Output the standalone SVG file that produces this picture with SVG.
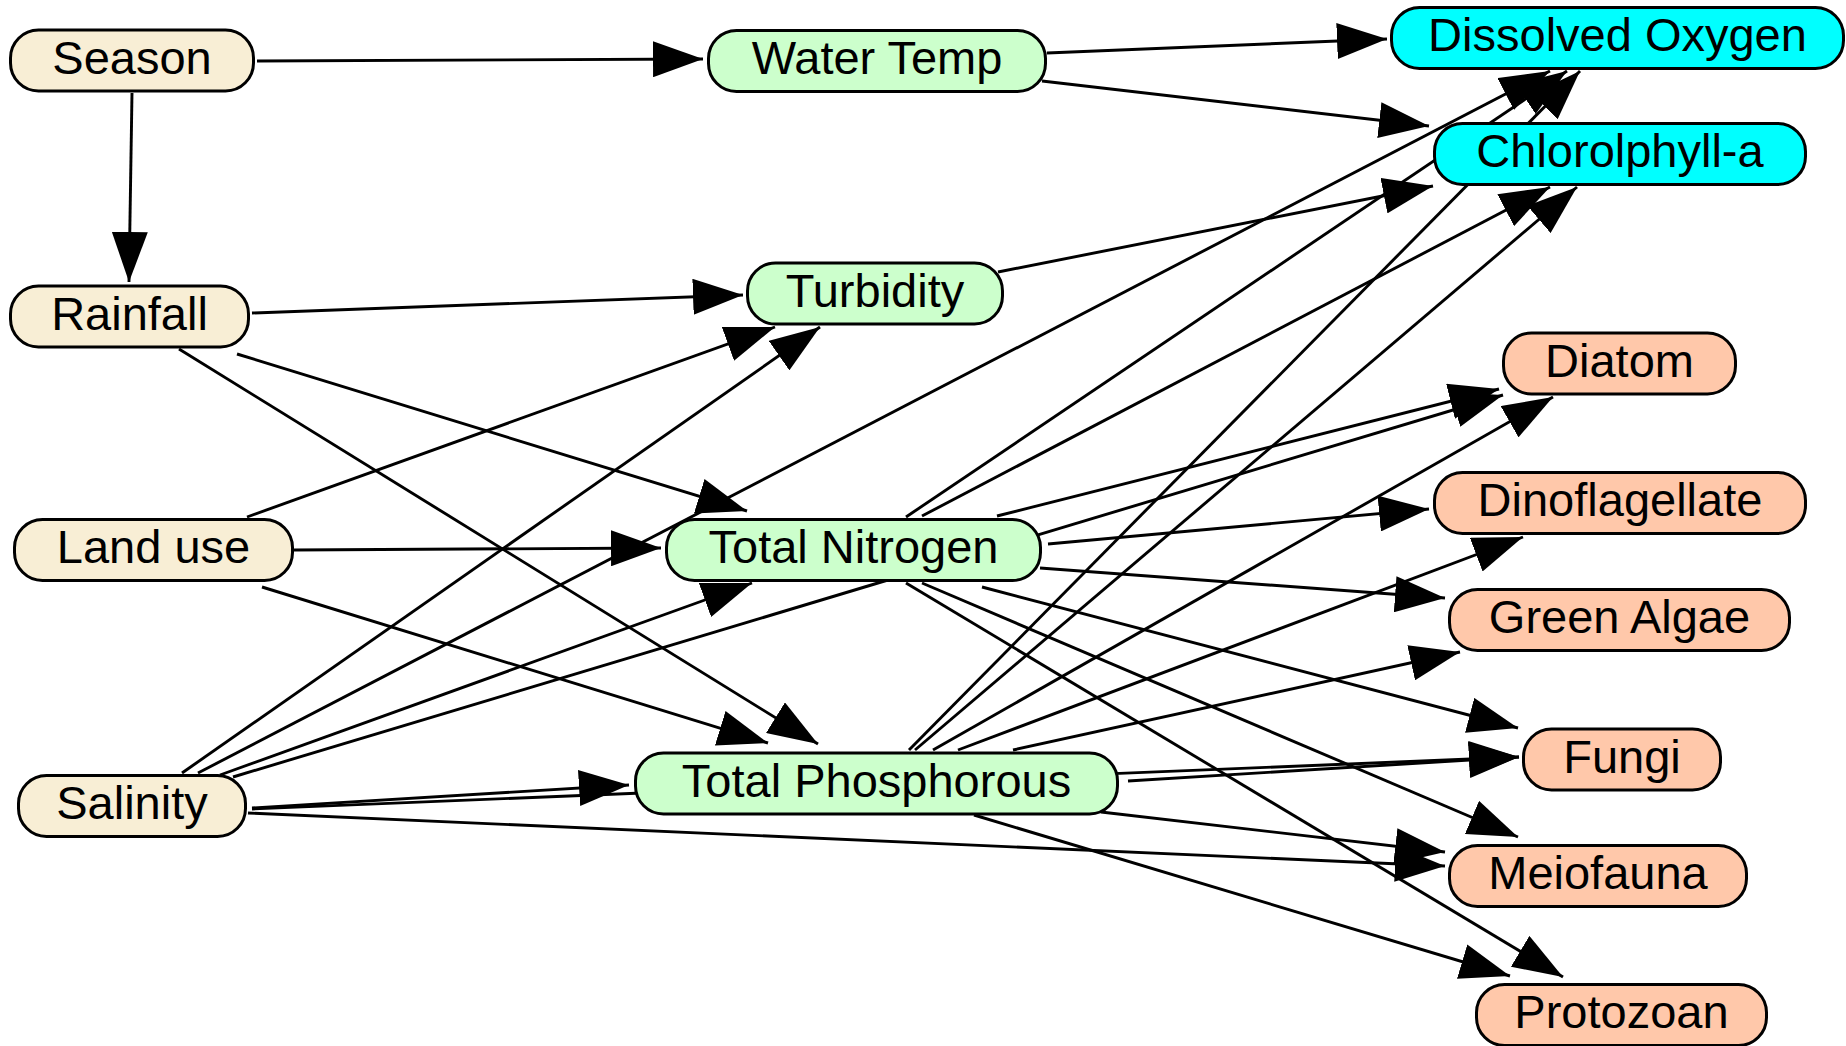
<svg xmlns="http://www.w3.org/2000/svg" width="1846" height="1046" viewBox="0 0 1846 1046">
<style>
.e{stroke:#000;stroke-width:2.9;fill:none;marker-end:url(#ah)}
.n rect{stroke:#000;stroke-width:3}
.drv rect{fill:#F8EED5}
.mid rect{fill:#CCFFCC}
.wq rect{fill:#00FFFF}
.bio rect{fill:#FFC8AA}
.n text{font-family:"Liberation Sans",Arial,sans-serif;font-size:47px;fill:#000;text-anchor:middle}
</style>
<defs>
<marker id="ah" markerUnits="userSpaceOnUse" markerWidth="50" markerHeight="36" viewBox="0 0 50 36" refX="50" refY="18" orient="auto"><path d="M0,0 L50,18 L0,36 Z" fill="#000"/></marker>
</defs>
<rect width="1846" height="1046" fill="#fff"/>
<g id="connectors">
<line class="e" x1="257" y1="61" x2="703" y2="59"/>
<line class="e" x1="132" y1="93" x2="129" y2="282"/>
<line class="e" x1="1047" y1="53" x2="1387" y2="39"/>
<line class="e" x1="1042" y1="81" x2="1429" y2="126"/>
<line class="e" x1="252" y1="313" x2="743" y2="295"/>
<line class="e" x1="237" y1="354" x2="747" y2="511"/>
<line class="e" x1="179" y1="349" x2="818" y2="744"/>
<line class="e" x1="998" y1="272" x2="1433" y2="186"/>
<line class="e" x1="247" y1="517" x2="775" y2="327"/>
<line class="e" x1="294" y1="550" x2="661" y2="548"/>
<line class="e" x1="262" y1="587" x2="768" y2="743"/>
<line class="e" x1="182" y1="773" x2="820" y2="327"/>
<line class="e" x1="198" y1="773" x2="1550" y2="71"/>
<line class="e" x1="220" y1="775" x2="752" y2="583"/>
<line class="e" x1="233" y1="777" x2="1503" y2="395"/>
<line class="e" x1="252" y1="808" x2="629" y2="785"/>
<line class="e" x1="252" y1="809" x2="1519" y2="757"/>
<line class="e" x1="248" y1="813" x2="1445" y2="866"/>
<line class="e" x1="906" y1="517" x2="1567" y2="71"/>
<line class="e" x1="922" y1="516" x2="1550" y2="187"/>
<line class="e" x1="997" y1="516" x2="1499" y2="389"/>
<line class="e" x1="1048" y1="544" x2="1429" y2="509"/>
<line class="e" x1="1040" y1="568" x2="1445" y2="598"/>
<line class="e" x1="982" y1="587" x2="1518" y2="728"/>
<line class="e" x1="922" y1="583" x2="1518" y2="837"/>
<line class="e" x1="906" y1="583" x2="1563" y2="977"/>
<line class="e" x1="909" y1="750" x2="1580" y2="71"/>
<line class="e" x1="915" y1="750" x2="1577" y2="187"/>
<line class="e" x1="933" y1="750" x2="1553" y2="397"/>
<line class="e" x1="958" y1="750" x2="1523" y2="537"/>
<line class="e" x1="1013" y1="750" x2="1460" y2="652"/>
<line class="e" x1="1128" y1="781" x2="1519" y2="757"/>
<line class="e" x1="1101" y1="812" x2="1445" y2="852"/>
<line class="e" x1="974" y1="815" x2="1510" y2="976"/>
</g>
<g id="season" class="n drv"><rect x="10.5" y="30" width="243" height="61" rx="28" ry="28"/><text x="132" y="73.5">Season</text></g>
<g id="water-temp" class="n mid"><rect x="708.5" y="30.5" width="337" height="61" rx="28" ry="28"/><text x="877" y="74">Water Temp</text></g>
<g id="dissolved-oxygen" class="n wq"><rect x="1391.5" y="7.5" width="452" height="61" rx="28" ry="28"/><text x="1617.5" y="51">Dissolved Oxygen</text></g>
<g id="chlorophyll" class="n wq"><rect x="1434.5" y="123.5" width="371" height="61" rx="28" ry="28"/><text x="1620" y="167">Chlorolphyll-a</text></g>
<g id="rainfall" class="n drv"><rect x="10.5" y="286" width="238" height="61" rx="28" ry="28"/><text x="129.5" y="329.5">Rainfall</text></g>
<g id="turbidity" class="n mid"><rect x="747.5" y="263" width="255" height="61" rx="28" ry="28"/><text x="875" y="306.5">Turbidity</text></g>
<g id="diatom" class="n bio"><rect x="1503.5" y="333" width="232" height="61" rx="28" ry="28"/><text x="1619.5" y="376.5">Diatom</text></g>
<g id="dinoflagellate" class="n bio"><rect x="1434.5" y="472.5" width="371" height="61" rx="28" ry="28"/><text x="1620" y="516">Dinoflagellate</text></g>
<g id="land-use" class="n drv"><rect x="14.5" y="519.5" width="278" height="61" rx="28" ry="28"/><text x="153.5" y="563">Land use</text></g>
<g id="total-nitrogen" class="n mid"><rect x="666.5" y="519.5" width="374" height="61" rx="28" ry="28"/><text x="853.5" y="563">Total Nitrogen</text></g>
<g id="green-algae" class="n bio"><rect x="1449.5" y="589.5" width="340" height="61" rx="28" ry="28"/><text x="1619.5" y="633">Green Algae</text></g>
<g id="fungi" class="n bio"><rect x="1523.5" y="729" width="197" height="61" rx="28" ry="28"/><text x="1622" y="772.5">Fungi</text></g>
<g id="salinity" class="n drv"><rect x="18.5" y="775.5" width="227" height="61" rx="28" ry="28"/><text x="132" y="819">Salinity</text></g>
<g id="total-phosphorous" class="n mid"><rect x="635.5" y="753" width="482" height="61" rx="28" ry="28"/><text x="876.5" y="796.5">Total Phosphorous</text></g>
<g id="meiofauna" class="n bio"><rect x="1449.5" y="845.5" width="297" height="61" rx="28" ry="28"/><text x="1598" y="889">Meiofauna</text></g>
<g id="protozoan" class="n bio"><rect x="1476.5" y="984.5" width="290" height="61" rx="28" ry="28"/><text x="1621.5" y="1028">Protozoan</text></g>
</svg>
